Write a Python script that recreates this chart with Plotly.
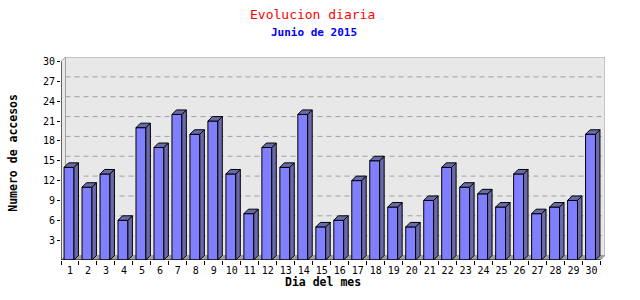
import plotly.graph_objects as go

# ---- data ----
days = list(range(1, 31))
day_labels = [str(d) for d in days]
visits = [14, 11, 13, 6, 20, 17, 22, 19, 21, 13, 7, 17, 14, 22, 5,
          6, 12, 15, 8, 5, 9, 14, 11, 10, 8, 13, 7, 8, 9, 19]
y_ticks = [3, 6, 9, 12, 15, 18, 21, 24, 27, 30]
title_text = "Evolucion diaria"
subtitle_text = "Junio de 2015"
x_title = "Dia del mes"
y_title = "Numero de accesos"

# ---- geometry (3D depth in data units) ----
DX = 0.25
DY = 0.68
BW = 0.55
OFF = -0.33
X_MIN, X_MAX = 0.5, 30.5
Y_TOP = 30

FRONT = "#8080FF"
SIDE = "#6A6AAA"
FONT = "DejaVu Sans Mono"

# pixel layout
L = 61
PW = 544.5
BOTTOM_PX = 260
PH = 203.4
TOP = BOTTOM_PX - PH


def px_x(p):
    return (p - L) / PW


def px_y(p):
    return (BOTTOM_PX - p) / PH


def poly(pts):
    return "M " + " L ".join(f"{x},{y}" for x, y in pts) + " Z"


fig = go.Figure()
fig.add_bar(x=days, y=visits, width=BW, offset=OFF,
            marker=dict(color=FRONT, line=dict(color="black", width=1)),
            hoverinfo="skip")

shapes = []
# back wall
shapes.append(dict(type="rect", xref="x", yref="y", x0=X_MIN + DX, x1=X_MAX + DX,
                   y0=DY, y1=Y_TOP + DY, fillcolor="#E8E8E8",
                   line=dict(color="#A0A0A0", width=1), layer="below"))
# left side wall
shapes.append(dict(type="path", xref="x", yref="y",
                   path=poly([(X_MIN, 0), (X_MIN, Y_TOP), (X_MIN + DX, Y_TOP + DY), (X_MIN + DX, DY)]),
                   fillcolor="#E8E8E8", line=dict(color="#A0A0A0", width=1), layer="below"))
# floor
shapes.append(dict(type="path", xref="x", yref="y",
                   path=poly([(X_MIN, 0), (X_MAX, 0), (X_MAX + DX, DY), (X_MIN + DX, DY)]),
                   fillcolor="#A0A0A0", line=dict(color="#A0A0A0", width=1), layer="below"))
# grid lines on back wall
for v in y_ticks[:-1]:
    shapes.append(dict(type="line", xref="x", yref="y", x0=X_MIN + DX, x1=X_MAX + DX,
                       y0=v + DY, y1=v + DY, line=dict(color="#A0A0A0", width=1, dash="5px,4px"),
                       layer="below"))

# 3D faces of bars
for d, v in zip(days, visits):
    xl = d + OFF
    xr = d + OFF + BW
    shapes.append(dict(type="path", xref="x", yref="y",
                       path=poly([(xr, 0), (xr + DX, DY), (xr + DX, v + DY), (xr, v)]),
                       fillcolor=SIDE, line=dict(color="black", width=1), layer="above"))
    shapes.append(dict(type="path", xref="x", yref="y",
                       path=poly([(xl, v), (xl + DX, v + DY), (xr + DX, v + DY), (xr, v)]),
                       fillcolor=SIDE, line=dict(color="black", width=1), layer="above"))

# axis lines
shapes.append(dict(type="line", xref="x", yref="y", x0=X_MIN, x1=X_MIN, y0=0, y1=Y_TOP,
                   line=dict(color="black", width=1), layer="above"))
shapes.append(dict(type="line", xref="x", yref="y", x0=X_MIN, x1=X_MAX, y0=0, y1=0,
                   line=dict(color="black", width=1), layer="above"))

annotations = [
    dict(text=title_text, x=px_x(313), y=px_y(14), xref="paper", yref="paper",
         xanchor="center", yanchor="middle", showarrow=False,
         font=dict(family=FONT, size=13, color="#FF0000")),
    dict(text=f"<b>{subtitle_text}</b>", x=px_x(314), y=px_y(32), xref="paper", yref="paper",
         xanchor="center", yanchor="middle", showarrow=False,
         font=dict(family=FONT, size=11, color="#0000FF")),
    dict(text=f"<b>{x_title}</b>", x=px_x(323.5), y=px_y(282), xref="paper", yref="paper",
         xanchor="center", yanchor="middle", showarrow=False,
         font=dict(family=FONT, size=11.5, color="black")),
    dict(text=f"<b>{y_title}</b>", x=px_x(13), y=px_y(152.5), xref="paper", yref="paper",
         xanchor="center", yanchor="middle", showarrow=False, textangle=-90,
         font=dict(family=FONT, size=11.5, color="black")),
]

fig.update_layout(
    width=640, height=300,
    margin=dict(l=L, r=640 - L - PW, t=TOP, b=300 - BOTTOM_PX, autoexpand=False),
    paper_bgcolor="white", plot_bgcolor="white",
    showlegend=False,
    shapes=shapes,
    annotations=annotations,
    xaxis=dict(range=[X_MIN, X_MAX + DX], tickmode="array", tickvals=days, ticktext=day_labels,
               ticks="", showgrid=False, zeroline=False, showline=False,
               ticklabelstandoff=3,
               tickfont=dict(family=FONT, size=10, color="black"),
               minor=dict(ticks="outside", tickmode="array",
                          tickvals=[d - 0.5 for d in days] + [X_MAX],
                          ticklen=4, tickcolor="black", showgrid=False)),
    yaxis=dict(range=[0, Y_TOP + DY], tickmode="array", tickvals=y_ticks,
               ticks="outside", ticklen=3, tickcolor="black",
               showgrid=False, zeroline=False, showline=False,
               tickfont=dict(family=FONT, size=10, color="black")),
)

fig.write_html("out.html")
